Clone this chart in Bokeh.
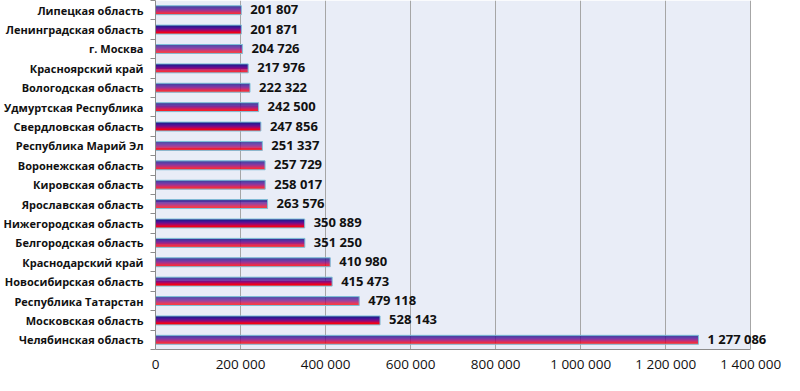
import numpy as np
from bokeh.plotting import figure
from bokeh.models import ColumnDataSource, FixedTicker, Range1d, LabelSet
from bokeh.transform import dodge
from bokeh.core.properties import value
from bokeh.embed import file_html
from bokeh.resources import INLINE

# categories listed top to bottom as in the chart
regions = [
    "Липецкая область", "Ленинградская область", "г. Москва", "Красноярский край",
    "Вологодская область", "Удмуртская Республика", "Свердловская область",
    "Республика Марий Эл", "Воронежская область", "Кировская область",
    "Ярославская область", "Нижегородская область", "Белгородская область",
    "Краснодарский край", "Новосибирская область", "Республика Татарстан",
    "Московская область", "Челябинская область",
]
values = [201807, 201871, 204726, 217976, 222322, 242500, 247856, 251337, 257729,
          258017, 263576, 350889, 351250, 410980, 415473, 479118, 528143, 1277086]
x_ticks = [0, 200000, 400000, 600000, 800000, 1000000, 1200000, 1400000]

def fmt(v):
    return f"{v:,}".replace(",", " ")

n = len(regions)
ys = [n - i - 0.5 for i in range(n)]
src = ColumnDataSource(dict(y=ys, value=values, label=[fmt(v) for v in values]))

W, H = 784, 375
LEFT = 150
PLOT_PX = 600          # pixels spanned by 0..x_max
x_max = x_ticks[-1]
frame_px = W - LEFT - 2
x_end = x_max * frame_px / PLOT_PX   # extra room so the last value label is not clipped

p = figure(width=W, height=H, output_backend="svg", toolbar_location=None,
           x_range=Range1d(0, x_end), y_range=Range1d(0, n),
           min_border_left=LEFT, min_border_right=2, min_border_top=0,
           min_border_bottom=24)
p.background_fill_color = "white"
p.border_fill_color = "white"
p.outline_line_color = None

# plot-area background (only up to the last tick)
p.quad(left=[0], right=[x_max], bottom=[0], top=[n], fill_color="#E9EDF7",
       line_color=None, level="image")

FONT = "Open Sans"

# gradient bar built from stacked strips (top -> bottom)
strip_colors = ["#1A1A86", "#2C1A8E", "#441494", "#601090", "#820B80",
                "#A80664", "#D0033E", "#EE001C", "#FF0000"]
bar_h = 0.46
sh = bar_h / len(strip_colors)
for k, c in enumerate(strip_colors):
    off = bar_h / 2 - sh * (k + 0.5)
    p.hbar(y=dodge("y", off), left=0, right="value", height=sh * 1.05, source=src,
           fill_color=c, line_color=None)
p.hbar(y="y", left=0, right="value", height=bar_h, source=src,
       fill_color=None, line_color="#7FC0D8", line_width=1)

labels = LabelSet(x="value", y="y", text="label", source=src, x_offset=9, y_offset=1,
                  text_baseline="middle", text_align="left",
                  text_font=value(FONT), text_font_style="bold", text_font_size="13px",
                  text_color="#111111")
p.add_layout(labels)

# x axis
xa = p.xaxis[0]
xa.ticker = FixedTicker(ticks=x_ticks)
xa.bounds = (0, x_max)
xa.major_label_overrides = {t: fmt(t) for t in x_ticks}
xa.major_label_text_font = FONT
xa.major_label_text_font_size = "13.5px"
xa.major_label_text_color = "#111111"
xa.major_tick_in = 0
xa.major_tick_out = 0
xa.minor_tick_out = 0
xa.minor_tick_in = 0
xa.axis_line_color = "#8C8C8C"
xa.major_label_standoff = 5

# y axis
ya = p.yaxis[0]
ya.ticker = FixedTicker(ticks=ys, minor_ticks=list(range(n + 1)))
ya.major_label_overrides = {y: r for y, r in zip(ys, regions)}
ya.major_label_text_font = FONT
ya.major_label_text_font_style = "bold"
ya.major_label_text_font_size = "11px"
ya.major_label_text_color = "#111111"
ya.major_tick_in = 0
ya.major_tick_out = 0
ya.minor_tick_in = 0
ya.minor_tick_out = 5
ya.minor_tick_line_color = "#8C8C8C"
ya.axis_line_color = "#8C8C8C"
ya.major_label_standoff = 7

p.xgrid.grid_line_color = "#A6A6A6"
p.xgrid.grid_line_width = 1
p.ygrid.grid_line_color = None

open("out.html", "w").write(file_html(p, INLINE))
